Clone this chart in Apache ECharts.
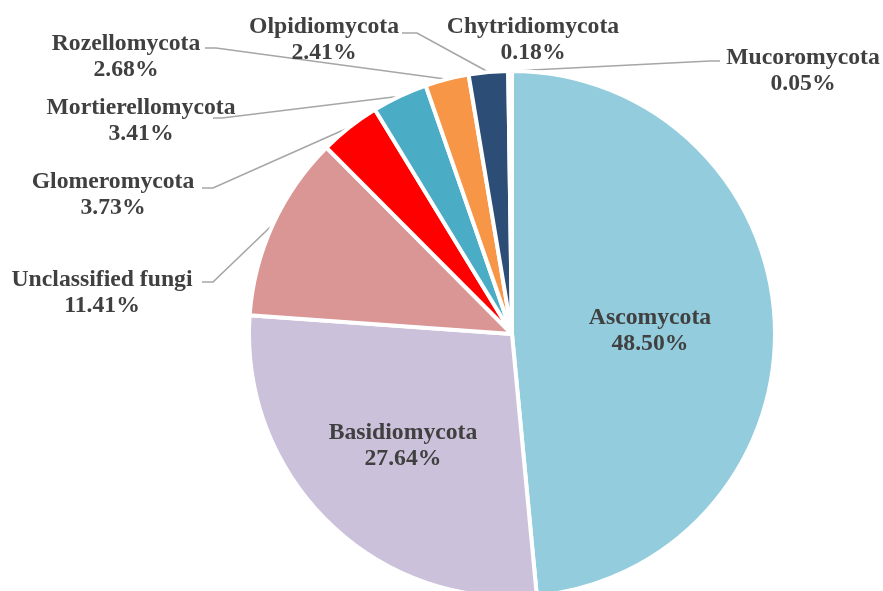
<!DOCTYPE html>
<html>
<head>
<meta charset="utf-8">
<script src="https://cdn.jsdelivr.net/npm/echarts@6/dist/echarts.min.js"></script>
<style>
  html, body { margin: 0; padding: 0; background: #fff; }
  #main { width: 883px; height: 591px; }
</style>
</head>
<body>
<div id="main"></div>
<script>
// phyla, clockwise from 12 o'clock
var names = ["Ascomycota", "Basidiomycota", "Unclassified fungi", "Glomeromycota",
  "Mortierellomycota", "Rozellomycota", "Olpidiomycota", "Chytridiomycota", "Mucoromycota"];
var percents = [48.50, 27.64, 11.41, 3.73, 3.41, 2.68, 2.41, 0.18, 0.05];
var colors = ["#93CDDD", "#CCC1DA", "#D99694", "#FF0000", "#4BACC6", "#F79646", "#2C4D75", "#8064A2", "#9BBB59"];

// where each label sits (center of the two-line block), plus leader line end/elbow
var labelSpots = {
  "Ascomycota":        { x: 650, y: 331 },
  "Basidiomycota":     { x: 403, y: 446 },
  "Unclassified fungi":{ x: 102, y: 293, elbow: [213, 282], end: [202, 282] },
  "Glomeromycota":     { x: 113, y: 195, elbow: [213, 188], end: [202, 188] },
  "Mortierellomycota": { x: 141, y: 121, elbow: [222, 118], end: [213, 118] },
  "Rozellomycota":     { x: 126, y: 57,  elbow: [216, 48],  end: [205, 48] },
  "Olpidiomycota":     { x: 324, y: 40,  elbow: [417, 33],  end: [402, 33] },
  "Chytridiomycota":   { x: 533, y: 40 },
  "Mucoromycota":      { x: 803, y: 71,  elbow: [710, 61],  end: [720, 61] }
};

var chart = echarts.init(document.getElementById("main"));

var pieData = names.map(function (n, i) {
  var item = { name: n, value: percents[i], itemStyle: { color: colors[i] } };
  if (i < 2) {
    item.label = { position: "inside" };
    item.labelLine = { show: false };
  }
  if (n === "Chytridiomycota") {
    item.labelLine = { show: false };
  }
  return item;
});

var option = {
  animation: false,
  backgroundColor: "#ffffff",
  series: [
    {
      type: "pie",
      center: [512, 334],
      radius: [0, 263],
      startAngle: 90,
      clockwise: true,
      avoidLabelOverlap: false,
      itemStyle: { borderColor: "#ffffff", borderWidth: 4 },
      label: {
        show: true,
        position: "outside",
        color: "#404040",
        fontFamily: "Liberation Serif",
        fontWeight: "bold",
        fontSize: 23.7,
        lineHeight: 26,
        align: "center",
        formatter: function (p) {
          return p.name + "\n" + p.value.toFixed(2) + "%";
        }
      },
      labelLine: {
        show: true,
        lineStyle: { color: "#A6A6A6", width: 1.6 }
      },
      labelLayout: function (params) {
        var spot = labelSpots[names[params.dataIndex]];
        var out = { x: spot.x, y: spot.y, align: "center", verticalAlign: "middle" };
        if (spot.end && params.labelLinePoints) {
          out.labelLinePoints = [params.labelLinePoints[0], spot.elbow, spot.end];
        }
        return out;
      },
      data: pieData
    }
  ]
};

chart.setOption(option);
</script>
</body>
</html>
